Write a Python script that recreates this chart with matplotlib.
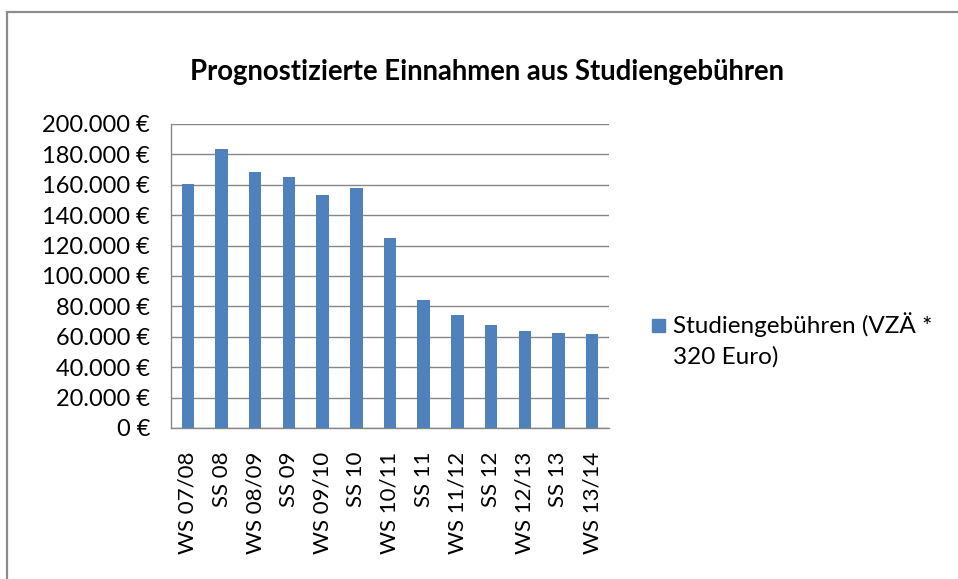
import matplotlib
matplotlib.use("Agg")
import matplotlib.pyplot as plt
from matplotlib.patches import Rectangle
from matplotlib.ticker import FuncFormatter

semesters = [
    "WS 07/08", "SS 08", "WS 08/09", "SS 09", "WS 09/10", "SS 10", "WS 10/11",
    "SS 11", "WS 11/12", "SS 12", "WS 12/13", "SS 13", "WS 13/14",
]
fees = [160500, 183300, 168200, 164900, 153000, 158100, 125100,
        84500, 74400, 67600, 63700, 62800, 61700]
y_ticks = list(range(0, 200001, 20000))

title = "Prognostizierte Einnahmen aus Studiengebühren"
series_label = "Studiengebühren (VZÄ *\n320 Euro)"

BAR_COLOR = "#4F81BD"
GRID_COLOR = "#868686"

plt.rcParams["font.family"] = ["Lato", "DejaVu Sans"]

fig = plt.figure(figsize=(9.58, 5.79), dpi=100, facecolor="white")
W, H = 958, 579

# outer chart frame (only top and left edges visible)
frame = Rectangle((7 / W, -0.1), 1.2, (1 - 12 / H) + 0.1,
                  transform=fig.transFigure, fill=False,
                  edgecolor="#8c8c8c", linewidth=1.6, clip_on=False)
fig.patches.append(frame)

ax = fig.add_axes([171 / W, 1 - 428 / H, (609 - 171) / W, (428 - 124) / H])
x = range(len(semesters))
ax.bar(x, fees, width=0.37, color=BAR_COLOR, zorder=3)

ax.set_xlim(-0.5, len(semesters) - 0.5)
ax.set_ylim(0, 200000)
ax.set_yticks(y_ticks)
ax.yaxis.set_major_formatter(
    FuncFormatter(lambda v, _: f"{int(v):,}".replace(",", ".") + " €"))
ax.set_xticks(list(x))
ax.set_xticklabels(semesters, rotation=90, va="top", ha="center")

ax.grid(axis="y", color=GRID_COLOR, linewidth=1.0, zorder=0)
for side in ("top", "right"):
    ax.spines[side].set_visible(False)
for side in ("left", "bottom"):
    ax.spines[side].set_color(GRID_COLOR)
    ax.spines[side].set_linewidth(1.0)
ax.tick_params(axis="both", length=0, labelsize=16, colors="black")
ax.tick_params(axis="y", pad=15, labelsize=17)
ax.tick_params(axis="x", pad=17)

fig.text(487 / W, 1 - 72 / H, title, ha="center", va="center",
         fontsize=19.8, fontweight="bold")

# legend
fig.patches.append(Rectangle((652 / W, 1 - 332 / H), 13 / W, 13 / H,
                             transform=fig.transFigure, color=BAR_COLOR))
fig.text(673 / W, 1 - 312 / H, series_label, ha="left", va="top",
         fontsize=17.5, linespacing=1.5)

fig.savefig("out.png", dpi=100, facecolor="white")
